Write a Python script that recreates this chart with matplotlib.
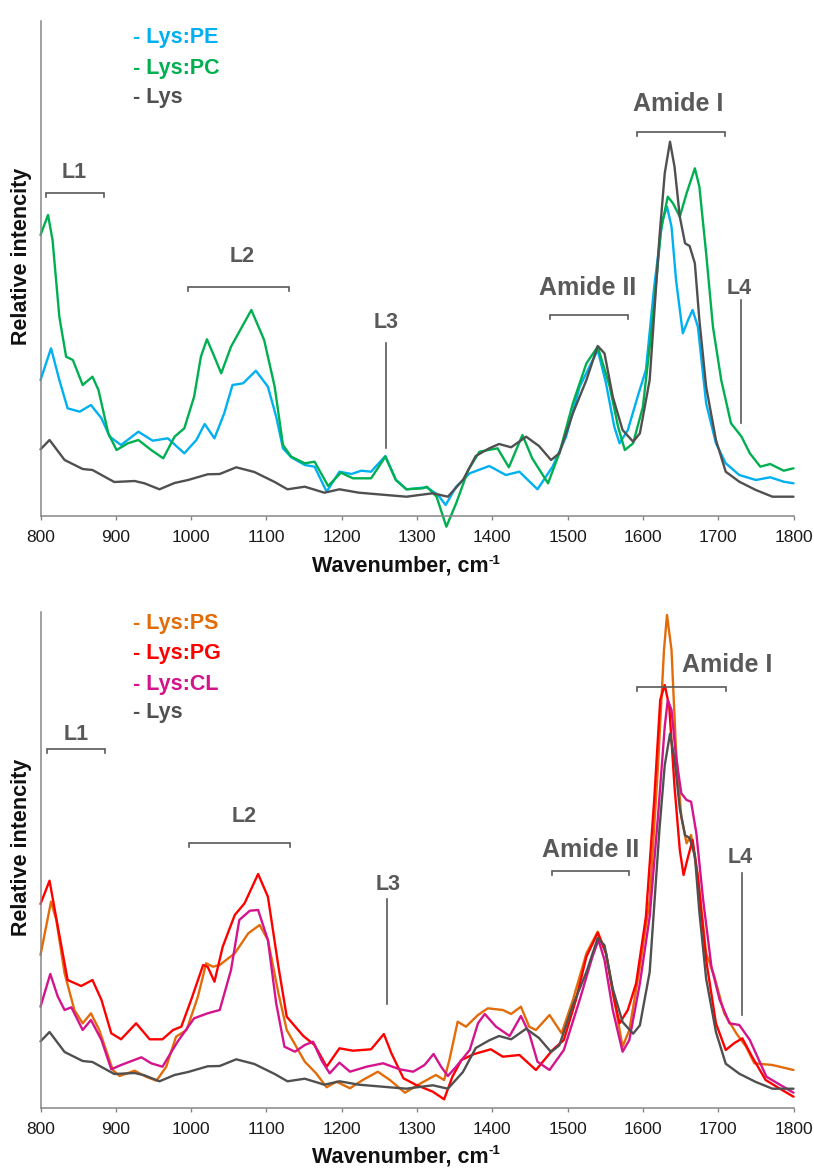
import matplotlib
matplotlib.use("Agg")
import matplotlib.pyplot as plt

# ---------------- data ----------------
lys_w = [800, 812, 832, 856, 869, 898, 925, 938, 958, 978, 996, 1022, 1038, 1060, 1084, 1111, 1128,
         1151, 1177, 1197, 1223, 1259, 1286, 1303, 1321, 1341, 1361, 1378, 1396, 1409, 1425, 1445,
         1462, 1478, 1489, 1507, 1525, 1540, 1549, 1560, 1573, 1587, 1596, 1609, 1622, 1629, 1636,
         1642, 1649, 1656, 1662, 1669, 1675, 1684, 1697, 1710, 1728, 1750, 1772, 1800]
lys_h = [66.7, 76, 56, 47, 46, 34, 35, 32.7, 26.7, 33, 36, 41.7, 42, 48.7, 44, 34, 26.7,
         29.3, 23.3, 26.7, 23.3, 21, 19.3, 21, 22.7, 19.3, 36, 60, 67.7, 72, 68.7, 79.3,
         70, 56, 62.7, 102.7, 136, 170, 162.7, 119.3, 86, 74.3, 82.7, 136, 279, 342.7, 374.3,
         349.3, 299.3, 272.7, 270, 252.7, 196, 129.3, 76, 44.3, 34.3, 26, 19.3, 19.3]

pc_w = [800, 810, 816, 825, 834, 843, 856, 869, 877, 890, 901, 916, 930, 947, 963, 978, 991, 1004,
        1013, 1021, 1029, 1040, 1053, 1064, 1080, 1097, 1111, 1122, 1133, 1151, 1164, 1182, 1199,
        1215, 1239, 1258, 1272, 1286, 1308, 1313, 1326, 1339, 1352, 1368, 1383, 1407, 1422, 1440,
        1453, 1474, 1489, 1507, 1525, 1540, 1556, 1567, 1576, 1587, 1600, 1613, 1624, 1633, 1640,
        1649, 1658, 1669, 1675, 1684, 1693, 1704, 1717, 1731, 1742, 1756, 1769, 1787, 1800]
pc_h = [281, 301, 276, 199.3, 159.3, 156, 131, 139.3, 126, 82.7, 66, 72.7, 76, 66, 57.7, 79.3, 87.7, 119.3,
        159.3, 176.7, 162.7, 142.7, 169.3, 184.3, 206, 176, 129.3, 71, 59.3, 52.7, 54.3, 30, 43.3,
        37.7, 37.7, 59.3, 36, 26.7, 27.7, 29.3, 19.3, -10.7, 12.7, 46, 64.3, 67.7, 48.7, 81,
        57.7, 32.7, 62.7, 112.7, 152.7, 169.3, 129.3, 89.3, 66, 72.7, 109.3, 196, 286, 319.3, 312.7,
        299.3, 322.7, 347.7, 329.3, 262.7, 189.3, 136, 92.7, 79.3, 62.7, 49.3, 52, 45.3, 47.7]

pe_w = [800, 814, 825, 836, 852, 867, 881, 892, 907, 930, 949, 969, 991, 1007, 1018, 1031, 1044, 1055,
        1069, 1086, 1102, 1113, 1122, 1133, 1151, 1164, 1180, 1197, 1213, 1226, 1239, 1258, 1272,
        1286, 1313, 1328, 1338, 1352, 1370, 1396, 1418, 1436, 1460, 1480, 1498, 1516, 1540, 1551,
        1562, 1569, 1580, 1593, 1604, 1615, 1626, 1632, 1638, 1644, 1653, 1660, 1666, 1673, 1684,
        1697, 1710, 1728, 1750, 1769, 1787, 1800]
pe_h = [136, 167.7, 136, 107.7, 104.3, 111, 97.7, 79.3, 71, 84.3, 75.3, 77.7, 62.7, 76, 92, 77.7, 102.7, 131,
        132.7, 145.3, 129.3, 99.3, 67.7, 58.7, 51, 49.3, 24.3, 44.3, 42, 45.3, 44.3, 60, 36,
        26.7, 28.7, 21, 11, 29.3, 42.7, 50, 41, 44.3, 26.7, 49.3, 79.3, 129.3, 166, 132.7,
        89.3, 72.7, 86, 119.3, 146, 229.3, 296, 309.3, 289.3, 236, 182.7, 196, 206, 189.3, 112.7,
        72.7, 52.7, 41, 36, 38.7, 34.3, 32.7]

ps_w = [800, 814, 821, 832, 845, 856, 867, 878, 896, 905, 925, 940, 954, 967, 980, 994, 1009, 1020,
        1029, 1038, 1058, 1076, 1091, 1102, 1116, 1127, 1151, 1166, 1180, 1193, 1211, 1228, 1248,
        1264, 1284, 1301, 1325, 1336, 1343, 1354, 1365, 1381, 1394, 1414, 1425, 1438, 1449, 1458,
        1476, 1492, 1507, 1525, 1540, 1551, 1562, 1573, 1582, 1596, 1609, 1620, 1628, 1632, 1638,
        1644, 1651, 1658, 1664, 1673, 1684, 1695, 1708, 1724, 1737, 1748, 1772, 1800]
ps_h = [153, 206.3, 188, 134.7, 98, 84.7, 94.7, 78, 38, 32, 37.3, 31.3, 27.3, 41.3, 71.3, 78, 111.3, 144.7,
        141.3, 143, 154.7, 174.7, 183, 168, 114.7, 78, 46.3, 34.7, 20.7, 26.3, 19.7, 28, 36.3,
        28, 15.3, 23, 33, 28, 48, 86.3, 81.3, 93, 99.7, 98, 94, 101.3, 81.3, 78,
        93, 74.7, 108, 154.7, 176.3, 154.7, 108, 61.3, 78, 141.3, 208, 341.3, 458, 493, 458,
        358, 291.3, 264.7, 273, 231.3, 154.7, 131.3, 94.7, 74.7, 61.3, 44.7, 43, 38]

pg_w = [800, 812, 823, 836, 854, 869, 881, 894, 907, 927, 945, 962, 976, 987, 1000, 1016, 1022, 1031,
        1042, 1058, 1071, 1089, 1102, 1116, 1127, 1149, 1164, 1180, 1197, 1215, 1239, 1256, 1266,
        1282, 1299, 1321, 1336, 1347, 1359, 1376, 1398, 1414, 1436, 1458, 1480, 1495, 1511, 1525,
        1540, 1551, 1562, 1569, 1580, 1591, 1604, 1615, 1623, 1629, 1635, 1642, 1649, 1654, 1660,
        1666, 1673, 1684, 1697, 1710, 1721, 1732, 1745, 1763, 1781, 1800]
pg_h = [204, 227.3, 181.3, 128, 122, 128, 108, 74.7, 68.7, 84.7, 68.7, 68.7, 78, 81.3, 108, 143, 141.3, 126.3,
        161.3, 193, 204.7, 234, 211.3, 141.3, 91.3, 72, 63, 41.3, 59.7, 57.3, 58.7, 74, 54.7,
        29.7, 23, 16.3, 8.7, 31.3, 48, 54, 58.7, 51.3, 53, 38, 58, 68, 108, 151.3,
        175.3, 154.7, 108, 84.7, 98, 124.7, 191.3, 308, 408, 423, 401.3, 321.3, 258, 233, 251.3,
        268, 231.3, 148, 84.7, 58, 64.7, 69.7, 51.3, 28, 19.7, 11.3]

cl_w = [800, 813, 823, 832, 841, 856, 867, 881, 894, 907, 934, 947, 962, 982, 1004, 1022, 1038, 1053,
        1064, 1078, 1089, 1102, 1113, 1124, 1138, 1151, 1162, 1173, 1184, 1197, 1211, 1233, 1255,
        1277, 1295, 1310, 1322, 1332, 1341, 1352, 1370, 1381, 1390, 1405, 1423, 1438, 1449, 1460,
        1476, 1495, 1516, 1533, 1541, 1549, 1560, 1573, 1582, 1596, 1609, 1620, 1629, 1633, 1638,
        1644, 1651, 1658, 1664, 1671, 1680, 1691, 1702, 1715, 1728, 1742, 1764, 1800]
cl_h = [101.3, 134, 111.3, 98, 100.7, 78, 88, 68, 38.7, 43, 50.7, 44.7, 41.3, 66.3, 89.7, 94.7, 98, 138,
        188, 197.3, 198, 168, 104.7, 61.3, 56.3, 63, 66.3, 48, 34.7, 45.3, 36.3, 41.3, 44.7,
        38.7, 36.3, 43, 54, 41.3, 32, 41.3, 58, 84.7, 94, 81.3, 72, 92, 74.7, 46.3,
        38, 58, 108, 151.3, 168, 148, 98, 56.3, 68, 124.7, 191.3, 291.3, 381.3, 408, 398,
        351.3, 314.7, 308, 306.3, 274.7, 208, 141.3, 108, 84.7, 83, 68, 31.3, 15.3]

x_ticks = [800, 900, 1000, 1100, 1200, 1300, 1400, 1500, 1600, 1700, 1800]
top_legend = ["- Lys:PE", "- Lys:PC", "- Lys"]
bottom_legend = ["- Lys:PS", "- Lys:PG", "- Lys:CL", "- Lys"]

# ---------------- styles ----------------
C_PE = "#00B0F0"
C_PC = "#00B050"
C_LYS = "#505050"
C_PS = "#E36C0A"
C_PG = "#FF0000"
C_CL = "#D4148C"
C_ANN = "#595959"
C_AX = "#868686"

plt.rcParams["font.family"] = ["Liberation Sans", "DejaVu Sans"]

W, H = 814, 1169
fig = plt.figure(figsize=(W / 100, H / 100), dpi=100)
renderer = fig.canvas.get_renderer()


def fx(px):
    return px / W


def fy(py):
    return 1 - py / H


def make_axes(top_px, base_px, ymax):
    bottom_px = base_px + 15
    ax = fig.add_axes([fx(40.5), fy(bottom_px), 753 / W, (bottom_px - top_px) / H])
    ax.set_xlim(800, 1800)
    ax.set_ylim(-15, ymax)
    for s in ("top", "right"):
        ax.spines[s].set_visible(False)
    ax.spines["bottom"].set_position(("data", 0))
    ax.spines["left"].set_bounds(0, ymax)
    for s in ("bottom", "left"):
        ax.spines[s].set_color(C_AX)
        ax.spines[s].set_linewidth(1.1)
    ax.set_yticks([])
    ax.set_xticks(x_ticks)
    ax.set_xticklabels([str(t) for t in x_ticks], fontsize=12.5, color="#1a1a1a")
    ax.tick_params(axis="x", direction="out", length=3, width=1, color=C_AX, pad=7)
    ax.patch.set_alpha(0)
    return ax


def bracket(ax, x0, x1, y):
    ax.plot([x0, x0, x1, x1], [y - 4, y, y, y - 4], color=C_ANN, lw=1.2, clip_on=False,
            solid_joinstyle="miter")


def vline(ax, x, y0, y1):
    ax.plot([x, x], [y0, y1], color=C_ANN, lw=1.2, clip_on=False)


def label(ax, x, y, s, size):
    ax.text(x, y, s, ha="center", va="center", fontsize=size, fontweight="bold", color=C_ANN)


def xlabel(px, py):
    t = fig.text(fx(px), fy(py), "Wavenumber, cm", ha="center", va="center",
                 fontsize=15.5, fontweight="bold", color="#111111")
    bb = t.get_window_extent(renderer)
    fig.text((bb.x1 + 0.5) / W, (bb.y1 + 1) / H, "-1", ha="left", va="top",
             fontsize=9.5, fontweight="bold", color="#111111")


LW = 1.7
kw = dict(lw=LW, clip_on=False, solid_joinstyle="round", solid_capstyle="round")

# ---------------- top panel ----------------
ax1 = make_axes(21, 516, 495)
ax1.plot(pe_w, pe_h, color=C_PE, **kw)
ax1.plot(pc_w, pc_h, color=C_PC, **kw)
ax1.plot(lys_w, lys_h, color=C_LYS, **kw)

bracket(ax1, 807, 884, 322.7)
label(ax1, 845, 343, "L1", 15.5)
bracket(ax1, 996, 1130, 228.7)
label(ax1, 1068, 260, "L2", 15.5)
vline(ax1, 1259, 173, 68)
label(ax1, 1259, 193, "L3", 15.5)
bracket(ax1, 1477, 1580, 201)
label(ax1, 1527, 228, "Amide II", 18)
bracket(ax1, 1592, 1709, 384)
label(ax1, 1647, 412, "Amide I", 18)
vline(ax1, 1730, 216, 93)
label(ax1, 1728, 228, "L4", 15.5)

for s, c, y in zip(top_legend, [C_PE, C_PC, C_LYS], [38, 68.3, 97]):
    fig.text(fx(133), fy(y), s, ha="left", va="center", fontsize=15.5, fontweight="bold", color=c)

fig.text(fx(22), fy(256), "Relative intencity", rotation=90, ha="center", va="center",
         fontsize=15.5, fontweight="bold", color="#111111")
xlabel(400, 566)

# ---------------- bottom panel ----------------
ax2 = make_axes(612, 1108, 496)
ax2.plot(ps_w, ps_h, color=C_PS, **kw)
ax2.plot(pg_w, pg_h, color=C_PG, **kw)
ax2.plot(cl_w, cl_h, color=C_CL, **kw)
ax2.plot(lys_w, lys_h, color=C_LYS, **kw)

bracket(ax2, 808, 886, 359.3)
label(ax2, 847, 374, "L1", 15.5)
bracket(ax2, 997, 1131.6, 264.7)
label(ax2, 1070, 292, "L2", 15.5)
vline(ax2, 1260, 208.7, 104)
label(ax2, 1261.5, 224, "L3", 15.5)
bracket(ax2, 1479, 1581, 236.7)
label(ax2, 1530, 258.4, "Amide II", 18)
bracket(ax2, 1592, 1711, 421)
label(ax2, 1712, 443.5, "Amide I", 18)
vline(ax2, 1731, 235, 93)
label(ax2, 1729, 250.5, "L4", 15.5)

for s, c, y in zip(bottom_legend, [C_PS, C_PG, C_CL, C_LYS], [623.3, 653.3, 684.3, 712.7]):
    fig.text(fx(133), fy(y), s, ha="left", va="center", fontsize=15.5, fontweight="bold", color=c)

fig.text(fx(22), fy(847), "Relative intencity", rotation=90, ha="center", va="center",
         fontsize=15.5, fontweight="bold", color="#111111")
xlabel(400, 1157)

fig.savefig("out.png", dpi=100)
